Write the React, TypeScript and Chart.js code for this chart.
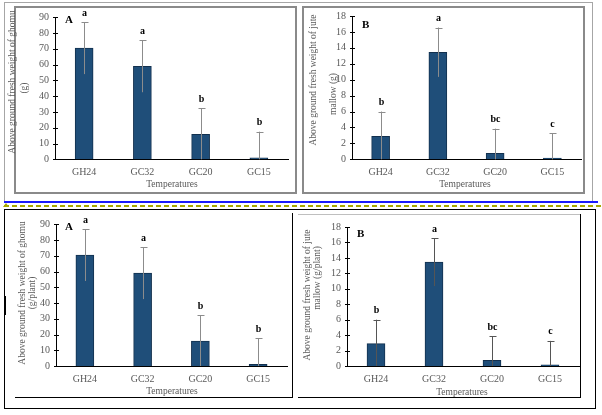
import React, { useEffect, useRef } from 'react';
import { Chart, registerables } from 'chart.js';
Chart.register(...registerables);

const categories = ['GH24', 'GC32', 'GC20', 'GC15'];
const ghomuMeans = [70.5, 59, 15.8, 1];
const ghomuErrors = [16.5, 16.5, 16.5, 16.5];
const ghomuLetters = ['a', 'a', 'b', 'b'];
const juteMeans = [2.9, 13.45, 0.75, 0.15];
const juteErrors = [3.1, 3.1, 3.1, 3.1];
const juteLetters = ['b', 'a', 'bc', 'c'];
const ghomuMax = 90;
const ghomuStep = 10;
const juteMax = 18;
const juteStep = 2;
const xTitle = 'Temperatures';

const FONT = 'Liberation Serif';
const GREY = '#595959';

type Spec = {
  l: number; t: number; w: number; h: number;
  x0: number; y0: number; x1: number; y1: number;
  max: number; step: number;
  means: number[]; errs: number[]; letters: string[];
  panel: string; pdx: number; pdy: number;
  titles: { text: string; x: number; y: number }[];
  xt: { x: number; y: number };
  errColor: string;
};

const specs: Spec[] = [
  {
    l: 5, t: 3, w: 291, h: 197, x0: 50, y0: 14.3, x1: 283, y1: 156.3,
    max: ghomuMax, step: ghomuStep, means: ghomuMeans, errs: ghomuErrors, letters: ghomuLetters,
    panel: 'A', pdx: 10, pdy: 1,
    titles: [
      { text: 'Above ground fresh weight of ghomu', x: 7, y: 79 },
      { text: '(g)', x: 19, y: 85 },
    ],
    xt: { x: 167, y: 181 }, errColor: '#8c8c8c',
  },
  {
    l: 298, t: 3, w: 294, h: 197, x0: 54, y0: 13, x1: 283, y1: 156.3,
    max: juteMax, step: juteStep, means: juteMeans, errs: juteErrors, letters: juteLetters,
    panel: 'B', pdx: 10, pdy: 7,
    titles: [
      { text: 'Above ground fresh weight of jute', x: 15, y: 77 },
      { text: 'mallow (g)', x: 35, y: 91 },
    ],
    xt: { x: 167, y: 181 }, errColor: '#8c8c8c',
  },
  {
    l: 5, t: 210, w: 286, h: 187, x0: 51, y0: 14.3, x1: 282, y1: 156,
    max: ghomuMax, step: ghomuStep, means: ghomuMeans, errs: ghomuErrors, letters: ghomuLetters,
    panel: 'A', pdx: 9, pdy: 1,
    titles: [
      { text: 'Above ground fresh weight of ghomu', x: 17, y: 83 },
      { text: '(g/plant)', x: 27, y: 83 },
    ],
    xt: { x: 167, y: 181.7 }, errColor: '#8c8c8c',
  },
  {
    l: 294, t: 215, w: 286, h: 182, x0: 53, y0: 7.7, x1: 285, y1: 151,
    max: juteMax, step: juteStep, means: juteMeans, errs: juteErrors, letters: juteLetters,
    panel: 'B', pdx: 10, pdy: 5,
    titles: [
      { text: 'Above ground fresh weight of jute', x: 13, y: 80 },
      { text: 'mallow (g/plant)', x: 23, y: 63 },
    ],
    xt: { x: 168, y: 177 }, errColor: '#555555',
  },
];

function Panel({ spec }: { spec: Spec }) {
  const ref = useRef<HTMLCanvasElement>(null);
  useEffect(() => {
    const canvas = ref.current!;
    const decor = {
      id: 'decor',
      afterDatasetsDraw(chart: any) {
        const ctx = chart.ctx;
        const ya = chart.scales.y;
        const area = chart.chartArea;
        const meta = chart.getDatasetMeta(0);
        ctx.save();
        ctx.strokeStyle = '#000';
        ctx.lineWidth = 1;
        ya.ticks.forEach((tk: any) => {
          const y = Math.round(ya.getPixelForValue(tk.value)) + 0.5;
          ctx.beginPath();
          ctx.moveTo(area.left - 2, y);
          ctx.lineTo(area.left + 3, y);
          ctx.stroke();
        });
        spec.means.forEach((m, i) => {
          const x = Math.round(meta.data[i].x) + 0.5;
          const top = ya.getPixelForValue(m + spec.errs[i]);
          const bot = ya.getPixelForValue(Math.max(0, m - spec.errs[i]));
          ctx.strokeStyle = spec.errColor;
          ctx.lineWidth = 1;
          ctx.beginPath();
          ctx.moveTo(x, bot);
          ctx.lineTo(x, top);
          ctx.moveTo(x - 3, Math.round(top) + 0.5);
          ctx.lineTo(x + 4, Math.round(top) + 0.5);
          ctx.stroke();
          ctx.fillStyle = '#000';
          ctx.font = `bold 10px "${FONT}"`;
          ctx.textAlign = 'center';
          ctx.textBaseline = 'middle';
          ctx.fillText(spec.letters[i], x, top - 9);
        });
        ctx.fillStyle = '#000';
        ctx.font = `bold 11px "${FONT}"`;
        ctx.textAlign = 'left';
        ctx.textBaseline = 'middle';
        ctx.fillText(spec.panel, area.left + spec.pdx, area.top + spec.pdy + 2);
        ctx.fillStyle = GREY;
        ctx.font = `9.5px "${FONT}"`;
        ctx.textAlign = 'center';
        spec.titles.forEach((tt) => {
          ctx.save();
          ctx.translate(tt.x, tt.y);
          ctx.rotate(-Math.PI / 2);
          ctx.fillText(tt.text, 0, 0);
          ctx.restore();
        });
        ctx.fillText(xTitle, spec.xt.x, spec.xt.y);
        ctx.restore();
      },
    };
    const chart = new Chart(canvas, {
      type: 'bar',
      data: {
        labels: categories,
        datasets: [
          {
            data: spec.means,
            backgroundColor: '#1f4e79',
            borderColor: '#12304e',
            borderWidth: 1,
            barThickness: 18,
          },
        ],
      },
      options: {
        responsive: false,
        animation: false,
        devicePixelRatio: 1,
        layout: { padding: { top: spec.y0, right: spec.w - spec.x1, bottom: 0, left: 0 } },
        plugins: { legend: { display: false }, tooltip: { enabled: false } },
        scales: {
          x: {
            grid: { display: false, drawTicks: false },
            border: { display: true, color: '#000', width: 1 },
            ticks: { padding: 7, color: GREY, font: { family: FONT, size: 10 } },
            afterFit: (s: any) => { s.height = spec.h - spec.y1; },
          },
          y: {
            min: 0,
            max: spec.max,
            grid: { display: false, drawTicks: false },
            border: { display: true, color: '#000', width: 1 },
            ticks: { stepSize: spec.step, padding: 6, color: GREY, font: { family: FONT, size: 10 } },
            afterFit: (s: any) => { s.width = spec.x0; },
          },
        },
      } as any,
      plugins: [decor],
    });
    return () => chart.destroy();
  }, [spec]);
  return (
    <canvas
      ref={ref}
      width={spec.w}
      height={spec.h}
      style={{ position: 'absolute', left: spec.l, top: spec.t, width: spec.w, height: spec.h }}
    />
  );
}

function Line({ x, y, w, h, c }: { x: number; y: number; w: number; h: number; c: string }) {
  return <div style={{ position: 'absolute', left: x, top: y, width: w, height: h, background: c }} />;
}

export default function App() {
  return (
    <div style={{ position: 'fixed', left: 0, top: 0, width: 602, height: 415, background: '#fff', overflow: 'hidden' }}>
      <Line x={4} y={2} w={1} h={200} c="#a6a6a6" />
      <Line x={4} y={2} w={589} h={1} c="#a6a6a6" />
      <Line x={592} y={2} w={1} h={199} c="#a6a6a6" />
      <div style={{ position: 'absolute', left: 14, top: 6, width: 279, height: 184, border: '2px solid #8a8a8a' }} />
      <div style={{ position: 'absolute', left: 302, top: 6, width: 279, height: 184, border: '2px solid #8a8a8a' }} />
      <Line x={4} y={201} w={594} h={2} c="#1a1aff" />
      <div
        style={{
          position: 'absolute', left: 4, top: 205, width: 598, height: 2,
          background: 'repeating-linear-gradient(to right, #a8a800 0 5px, transparent 5px 8px)',
        }}
      />
      <div style={{ position: 'absolute', left: 3, top: 203, width: 0, height: 0, borderLeft: '3px solid transparent', borderRight: '3px solid transparent', borderBottom: '4px solid #a8a800' }} />
      <div style={{ position: 'absolute', left: 4, top: 209, width: 590, height: 198, border: '1px solid #000' }} />
      <Line x={15} y={397} w={278} h={1} c="#000" />
      <Line x={292} y={213} w={1} h={185} c="#000" />
      <Line x={5} y={296} w={1} h={19} c="#000" />
      <Line x={298} y={214} w={283} h={1} c="#bfbfbf" />
      <Line x={580} y={214} w={1} h={184} c="#000" />
      <Line x={298} y={397} w={283} h={1} c="#000" />
      {specs.map((s, i) => (
        <Panel key={i} spec={s} />
      ))}
    </div>
  );
}
